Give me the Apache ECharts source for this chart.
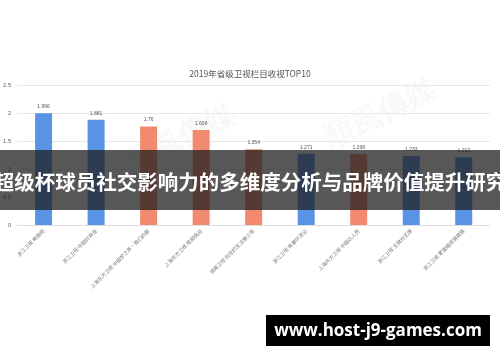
<!DOCTYPE html>
<html><head><meta charset="utf-8">
<script src="https://cdn.jsdelivr.net/npm/echarts@6/dist/echarts.min.js"></script>
<style>html,body{margin:0;padding:0;background:#fff}#c{width:500px;height:362px}</style>
</head><body><div id="c"></div>
<script>
const categories = ['浙江卫视 奔跑吧','浙江卫视 中国好声音','上海东方卫视 中国梦之声·我们的歌','上海东方卫视 极限挑战','湖南卫视 向往的生活第三季','浙江卫视 青春环游记','上海东方卫视 中国达人秀','浙江卫视 王牌对王牌','浙江卫视 蒙面唱将猜猜猜'];
const values = [1.996, 1.881, 1.76, 1.698, 1.354, 1.271, 1.268, 1.233, 1.212];
const valueLabels = ['1.996','1.881','1.76','1.698','1.354','1.271','1.268','1.233','1.212'];
const barGroup = ['b','b','s','s','s','b','s','b','b'];
const yTicks = [0, 0.5, 1, 1.5, 2, 2.5];
const titleText = '2019年省级卫视栏目收视TOP10';
const bannerText = '超级杯球员社交影响力的多维度分析与品牌价值提升研究';
const siteText = 'www.host-j9-games.com';

const colorMap = {b:'#5a93e4', s:'#f28a6f'};
const chart = echarts.init(document.getElementById('c'));
chart.setOption({
  animation:false,
  title:{text:titleText,left:'center',top:65,textStyle:{fontSize:8.5,fontWeight:'normal',color:'#555',fontFamily:'Noto Sans CJK SC'}},
  grid:{left:16,right:10,top:85,bottom:137,containLabel:false},
  xAxis:{type:'category',data:categories,
    axisLine:{lineStyle:{color:'#ddd'}},axisTick:{show:false},
    axisLabel:{rotate:45,fontSize:5,color:'#777',interval:0,margin:5,fontFamily:'Noto Sans CJK SC'}},
  yAxis:{type:'value',min:yTicks[0],max:yTicks[yTicks.length-1],interval:0.5,
    axisLine:{show:false},axisTick:{show:false},
    splitLine:{lineStyle:{color:'#e8e8e8'}},
    axisLabel:{fontSize:6,color:'#666',margin:6}},
  series:[{type:'bar',barWidth:17,z:2,
    data:values.map((v,i)=>({value:v,itemStyle:{color:colorMap[barGroup[i]]},
      label:{show:true,position:'top',formatter:valueLabels[i],fontSize:5,color:'#555',distance:4}}))}],
  graphic:[
    {type:'text',left:120,top:100,rotation:0.45,z:0,zlevel:0,silent:true,style:{text:'順風傳媒',fontSize:30,fontWeight:'bold',fill:'rgba(200,200,200,0.12)'}},
    {type:'text',left:320,top:75,rotation:0.45,z:0,zlevel:0,silent:true,style:{text:'順風傳媒',fontSize:30,fontWeight:'bold',fill:'rgba(200,200,200,0.12)'}},
    {type:'rect',z:100,shape:{x:0,y:150,width:500,height:60},style:{fill:'rgba(30,30,30,0.74)'}},
    {type:'text',z:101,x:250,y:182,style:{text:bannerText,fontSize:20.5,fontWeight:'bold',fill:'#fff',align:'center',verticalAlign:'middle',fontFamily:'Noto Sans CJK SC'}},
    {type:'rect',z:100,shape:{x:266,y:315,width:224,height:31},style:{fill:'#000'}},
    {type:'text',z:101,x:378,y:331,style:{text:siteText,fontSize:17,fontWeight:'bold',fill:'#fff',align:'center',verticalAlign:'middle',fontFamily:'Open Sans'}}
  ]
});
</script></body></html>
